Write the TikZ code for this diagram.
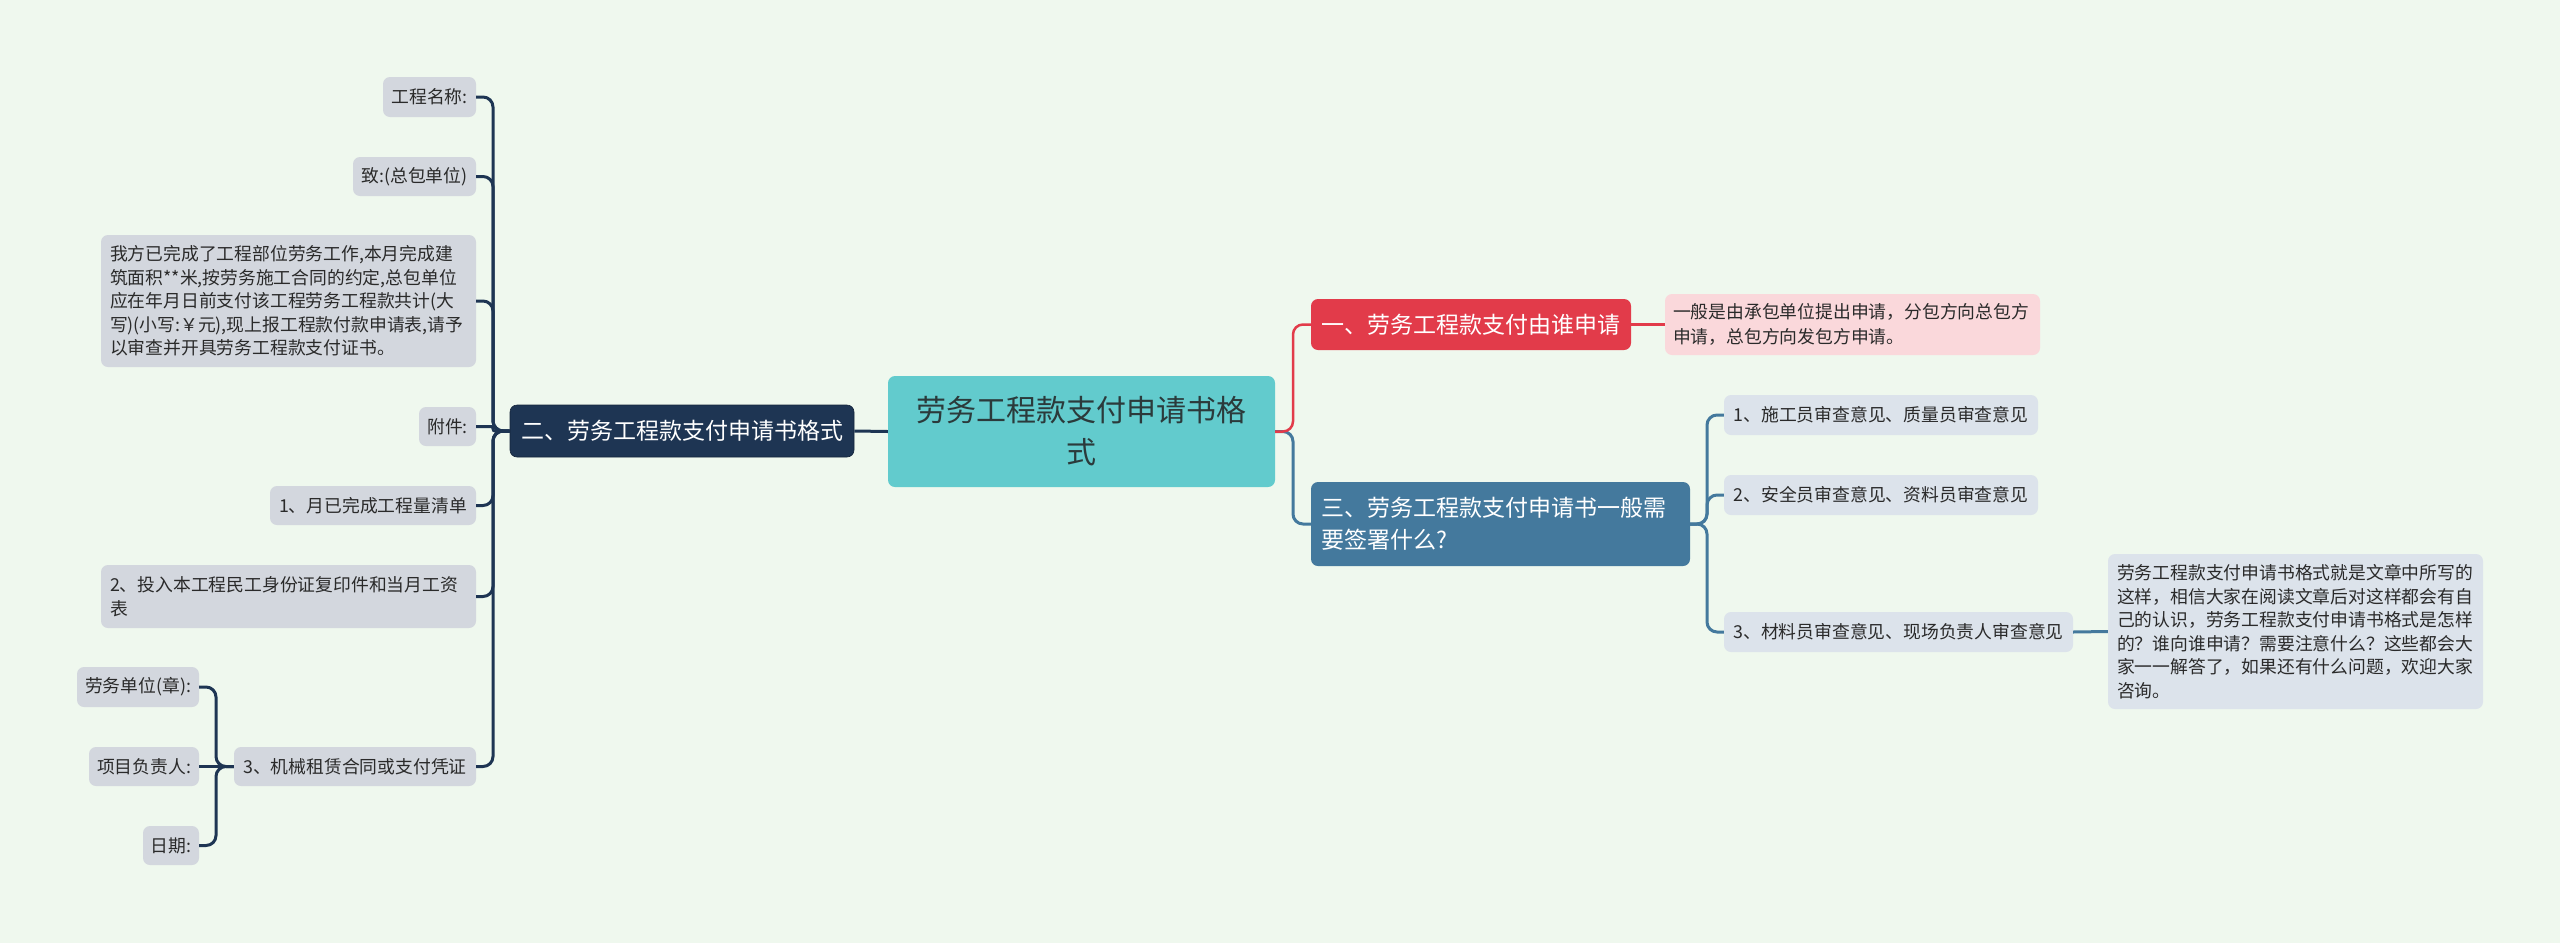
\documentclass[tikz,border=0pt]{standalone}
\usepackage{fontspec}
\setmainfont{Noto Sans CJK SC}
\definecolor{bgc}{HTML}{EFF8EE}
\definecolor{leafc}{HTML}{D3D7DE}
\definecolor{rleafc}{HTML}{DCE3EB}
\definecolor{navyc}{HTML}{1E3553}
\definecolor{tealc}{HTML}{62CBCD}
\definecolor{redc}{HTML}{E23B4A}
\definecolor{pinkc}{HTML}{FAD8DB}
\definecolor{bluec}{HTML}{44799D}
\definecolor{txtc}{HTML}{2A2A2A}
\definecolor{ctxt}{HTML}{2B3A3B}
\begin{document}
\begin{tikzpicture}[x=1pt,y=-1pt,
  base/.style={rounded corners=7pt, inner sep=0pt, align=center},
  leaf/.style={base, fill=leafc, text=txtc, font=\fontsize{17.8}{23.5}\selectfont},
  rleaf/.style={base, fill=rleafc, text=txtc, font=\fontsize{17.8}{23.5}\selectfont},
  mainf/.style={font=\fontsize{23}{32}\selectfont},
  navyl/.style={draw=navyc, line width=3pt, rounded corners=10pt},
  redl/.style={draw=redc, line width=2.5pt, rounded corners=10pt},
  bluel/.style={draw=bluec, line width=3pt, rounded corners=10pt}
]
\fill[bgc] (0,0) rectangle (2560,943);
\useasboundingbox (0,0) rectangle (2560,943);

% central
\node[base, fill=tealc, text=ctxt, font=\fontsize{30}{42}\selectfont, minimum width=387pt, minimum height=111pt] (C) at (1081.5,431.5) {劳务工程款支付申请书格\\式};

% left main
\node[base, fill=navyc, draw=navyc!70!black, line width=0.6pt, text=white, mainf, minimum width=344pt, minimum height=52pt] (L) at (682,431) {二、劳务工程款支付申请书格式};

% left leaves
\node[leaf, minimum width=93pt, minimum height=40pt] (n1) at (429.5,97) {工程名称:};
\node[leaf, minimum width=123pt, minimum height=39pt] (n2) at (414.5,176.5) {致:(总包单位)};
\node[leaf, text width=357pt, inner xsep=9pt, align=left, minimum height=132pt] (n3) at (288.5,301) {我方已完成了工程部位劳务工作,本月完成建\\筑面积**米,按劳务施工合同的约定,总包单位\\应在年月日前支付该工程劳务工程款共计(大\\写)(小写:￥元),现上报工程款付款申请表,请予\\以审查并开具劳务工程款支付证书。};
\node[leaf, minimum width=57pt, minimum height=39pt] (n4) at (447.5,426.5) {附件:};
\node[leaf, minimum width=206pt, minimum height=39pt] (n5) at (373,505.5) {1、月已完成工程量清单};
\node[leaf, text width=357pt, inner xsep=9pt, align=left, minimum height=63pt] (n6) at (288.5,596.5) {2、投入本工程民工身份证复印件和当月工资\\表};
\node[leaf, minimum width=242pt, minimum height=39pt] (n7) at (355,766.5) {3、机械租赁合同或支付凭证};
\node[leaf, minimum width=122pt, minimum height=40pt] (s1) at (138,687) {劳务单位(章):};
\node[leaf, minimum width=110pt, minimum height=39pt] (s2) at (144,766.5) {项目负责人:};
\node[leaf, minimum width=56pt, minimum height=39pt] (s3) at (171,845.5) {日期:};

% right main
\node[base, fill=redc, text=white, mainf, minimum width=320pt, minimum height=51pt] (R1) at (1471,324.5) {一、劳务工程款支付由谁申请};
\node[base, fill=pinkc, text=txtc, font=\fontsize{17.8}{25}\selectfont, text width=359pt, inner xsep=8pt, align=left, minimum height=61pt] (P) at (1852.5,324.5) {一般是由承包单位提出申请，分包方向总包方\\申请，总包方向发包方申请。};
\node[base, fill=bluec, text=white, mainf, text width=359pt, inner xsep=10pt, align=left, minimum height=84pt] (R3) at (1500.5,524) {三、劳务工程款支付申请书一般需\\要签署什么?};
\node[rleaf, minimum width=314pt, minimum height=40pt] (b1) at (1881,415) {1、施工员审查意见、质量员审查意见};
\node[rleaf, minimum width=314pt, minimum height=40pt] (b2) at (1881,495) {2、安全员审查意见、资料员审查意见};
\node[rleaf, minimum width=349pt, minimum height=40pt] (b3) at (1898.5,632) {3、材料员审查意见、现场负责人审查意见};
\node[rleaf, text width=357pt, inner xsep=9pt, align=left, minimum height=155pt] (Q) at (2295.5,631.5) {劳务工程款支付申请书格式就是文章中所写的\\这样，相信大家在阅读文章后对这样都会有自\\己的认识，劳务工程款支付申请书格式是怎样\\的？谁向谁申请？需要注意什么？这些都会大\\家一一解答了，如果还有什么问题，欢迎大家\\咨询。};

% left connectors
\draw[navyl] (L.east) -- (C.west);
\draw[navyl] (n1.east) -- (493,97) -- (493,431) -- (L.west);
\draw[navyl] (n2.east) -- (493,176.5) -- (493,431) -- (L.west);
\draw[navyl] (n3.east) -- (493,301) -- (493,431) -- (L.west);
\draw[navyl, rounded corners=2pt] (n4.east) -- (493,426.5) -- (493,431) -- (L.west);
\draw[navyl] (n5.east) -- (493,505.5) -- (493,431) -- (L.west);
\draw[navyl] (n6.east) -- (493,596.5) -- (493,431) -- (L.west);
\draw[navyl] (n7.east) -- (493,766.5) -- (493,431) -- (L.west);
\draw[navyl] (s1.east) -- (216,687) -- (216,766.5) -- (n7.west);
\draw[navyl] (s2.east) -- (n7.west);
\draw[navyl] (s3.east) -- (216,845.5) -- (216,766.5) -- (n7.west);

% right connectors
\draw[bluel] (C.east) -- (1293,431.5) -- (1293,524) -- (R3.west);
\draw[redl] (C.east) -- (1293,431.5) -- (1293,324.5) -- (R1.west);
\draw[redl] (R1.east) -- (P.west);
\draw[bluel] (R3.east) -- (1707,524) -- (1707,415) -- (b1.west);
\draw[bluel] (R3.east) -- (1707,524) -- (1707,495) -- (b2.west);
\draw[bluel] (R3.east) -- (1707,524) -- (1707,632) -- (b3.west);
\draw[bluel] (b3.east) -- (Q.west);
\end{tikzpicture}
\end{document}
